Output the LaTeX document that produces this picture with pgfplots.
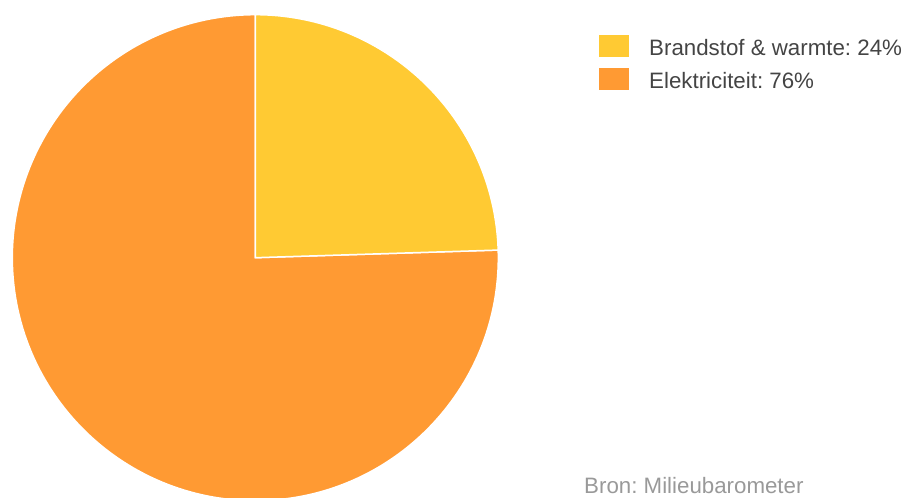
\documentclass[border=0pt]{standalone}
\usepackage{pgfplots}
\pgfplotsset{compat=1.18}
\usepackage{pgfplotstable}
\usepackage{fontspec}
\setmainfont{Liberation Sans}
\frenchspacing
\definecolor{cyel}{HTML}{FFCA33}
\definecolor{corg}{HTML}{FF9A33}
\definecolor{ctext}{HTML}{444444}
\definecolor{csrc}{HTML}{999999}
\pgfplotstableread{
label value
Brandstof 24.5
Elektriciteit 75.5
}\piedata
\begin{document}
\begin{tikzpicture}
\pgfplotstablegetelem{0}{value}\of\piedata
\pgfmathsetmacro{\va}{\pgfplotsretval}
\pgfplotstablegetelem{1}{value}\of\piedata
\pgfmathsetmacro{\vb}{\pgfplotsretval}
\pgfmathsetmacro{\aA}{90-3.6*\va}
\pgfmathsetmacro{\aB}{\aA-3.6*\vb}
\begin{axis}[
  at={(0,0)}, anchor=south west,
  scale only axis, width=906pt, height=498pt,
  xmin=0, xmax=906, ymin=0, ymax=498,
  hide axis,
  legend style={at={(axis cs:596,471)}, anchor=north west, draw=none, fill=none,
    font=\fontsize{22.3}{26}\selectfont, text=ctext,
    nodes={inner sep=0pt}, column sep=20pt, row sep=0pt, cells={anchor=west}},
  legend image code/.code={\path[draw=none,fill=none,use as bounding box] (0pt,-14.75pt) rectangle (30pt,18.75pt);
    \fill[#1, draw=none] (0pt,-9pt) rectangle (30pt,13pt);},
]
\fill[corg, draw=white, line width=1.5pt] (axis cs:255.3,240.3) -- ++(\aA:243pt) arc[start angle=\aA, end angle=\aB, radius=243pt] -- cycle;
\fill[cyel, draw=white, line width=1.5pt] (axis cs:255.3,240.3) -- ++(90:243pt) arc[start angle=90, end angle=\aA, radius=243pt] -- cycle;
\addlegendimage{fill=cyel}
\addlegendentry{Brandstof \& warmte: 24\%}
\addlegendimage{fill=corg}
\addlegendentry{Elektriciteit: 76\%}
\node[anchor=base west, inner sep=0pt, text=csrc, font=\fontsize{22.3}{26}\selectfont] at (axis cs:584,4) {Bron: Milieubarometer};
\end{axis}
\pgfresetboundingbox
\useasboundingbox (0,0) rectangle (906pt,498pt);
\end{tikzpicture}
\end{document}
